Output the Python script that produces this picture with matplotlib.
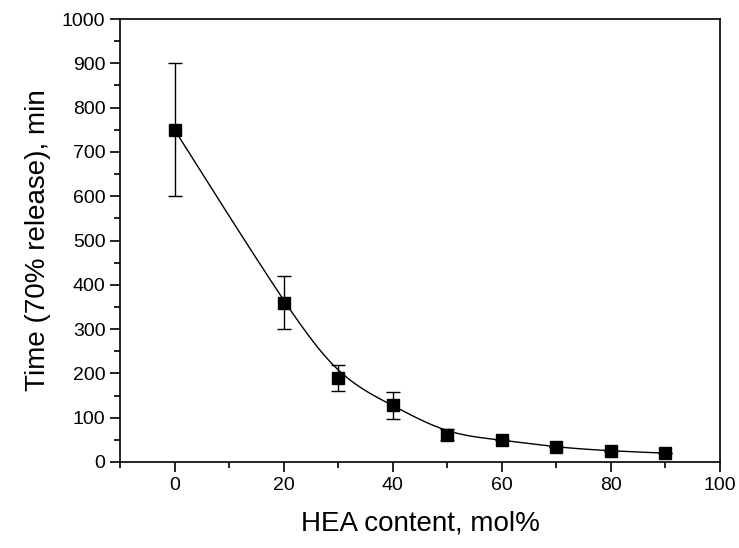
import numpy as np
import matplotlib
matplotlib.use("Agg")
import matplotlib.pyplot as plt
from matplotlib.ticker import MultipleLocator

plt.rcParams['font.family'] = ['Liberation Sans', 'DejaVu Sans']

hea = [0, 20, 30, 40, 50, 60, 70, 80, 90]
time70 = [750, 360, 190, 128, 62, 50, 33, 25, 20]
err = [150, 60, 30, 30, 13, 0, 0, 0, 0]

def bspline(x, y, per=60):
    # uniform cubic B-spline using the data as control points (endpoints tripled)
    P = np.column_stack([x, y]).astype(float)
    P = np.vstack([P[0], P[0], P, P[-1], P[-1]])
    M = np.array([[-1, 3, -3, 1], [3, -6, 3, 0], [-3, 0, 3, 0], [1, 4, 1, 0]]) / 6.0
    t = np.linspace(0, 1, per)
    T = np.column_stack([t**3, t**2, t, np.ones_like(t)])
    pts = [T @ M @ P[i:i + 4] for i in range(len(P) - 3)]
    pts = np.vstack(pts)
    return pts[:, 0], pts[:, 1]

fig = plt.figure(figsize=(7.39, 5.48), dpi=100)
ax = fig.add_axes([120/739, 1-462/548, 600/739, 443/548])

xs, ys = bspline(hea, time70)
ax.plot(xs, ys, color='black', lw=1.0)
ax.errorbar(hea, time70, yerr=err, fmt='s', color='black', ms=8.5,
            ecolor='black', elinewidth=1.0, capsize=5, capthick=1.0)

ax.set_xlim(-10, 100)
ax.set_ylim(0, 1000)
ax.xaxis.set_major_locator(MultipleLocator(20))
ax.xaxis.set_minor_locator(MultipleLocator(10))
ax.yaxis.set_major_locator(MultipleLocator(100))
ax.yaxis.set_minor_locator(MultipleLocator(50))
ax.tick_params(which='major', direction='out', length=7, width=1.2, labelsize=14)
ax.tick_params(which='minor', direction='out', length=4, width=1.2)
for s in ax.spines.values():
    s.set_linewidth(1.2)

ax.set_xlabel('HEA content, mol%', fontsize=20, labelpad=12)
ax.set_ylabel('Time (70% release), min', fontsize=20, labelpad=8)

fig.savefig('out.png', dpi=100)
